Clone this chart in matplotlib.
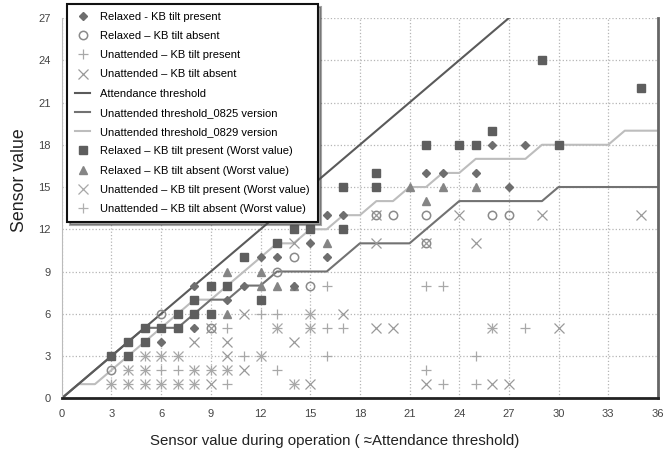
import matplotlib.pyplot as plt

# ---- data ----
rel_tilt_x = [8, 10, 11, 12, 13, 16, 16, 17, 22, 23, 25, 26, 28, 27, 8, 6, 15, 14]
rel_tilt_y = [8, 7, 8, 10, 10, 10, 13, 13, 16, 16, 16, 18, 18, 15, 5, 4, 11, 8]

rel_notilt_x = [3, 6, 13, 14, 15, 20, 22, 26, 27, 19, 22, 9]
rel_notilt_y = [2, 6, 9, 10, 8, 13, 13, 13, 13, 13, 11, 5]

un_tilt_x = [10, 6, 7, 10, 11, 12, 13, 16, 16, 17, 16, 13, 22, 23, 28, 25, 22, 23, 25,
             3, 4, 5, 6, 7, 8, 4, 5, 8, 9, 10, 5, 6, 7, 12, 15, 13, 15, 14, 26]
un_tilt_y = [1, 2, 2, 5, 3, 6, 6, 8, 5, 5, 3, 2, 8, 8, 5, 3, 2, 1, 1,
             1, 1, 1, 1, 1, 1, 2, 2, 2, 2, 2, 3, 3, 3, 3, 6, 5, 5, 1, 5]

un_notilt_x = [9, 11, 8, 10, 10, 11, 17, 19, 20, 14, 15, 24, 29, 35, 25, 14, 19, 30, 22, 26, 27,
               19, 22, 9]
un_notilt_y = [1, 2, 4, 4, 3, 6, 6, 5, 5, 4, 1, 13, 13, 13, 11, 11, 11, 5, 1, 1, 1,
               13, 11, 5]

attend_x = [0, 27]
attend_y = [0, 27]

th0825_x = [0, 5, 7, 9, 10, 11, 12, 13, 16, 18, 21, 24, 29, 30, 36]
th0825_y = [0, 5, 5, 7, 7, 8, 8, 9, 9, 11, 11, 14, 14, 15, 15]

th0829_x = [0, 1, 2, 8, 9, 13, 14, 15, 16, 17, 18, 19, 20, 21, 22, 23, 24, 25, 28, 29, 33, 34, 36]
th0829_y = [0, 1, 1, 7, 7, 11, 11, 12, 12, 13, 13, 14, 14, 15, 15, 16, 16, 17, 17, 18, 18, 19, 19]

relw_tilt_x = [3, 4, 4, 5, 5, 6, 7, 7, 8, 9, 8, 9, 10, 11, 12, 13, 14, 15, 17, 17, 19, 19,
               22, 24, 25, 26, 29, 30, 35]
relw_tilt_y = [3, 3, 4, 4, 5, 5, 5, 6, 6, 6, 7, 8, 8, 10, 7, 11, 12, 12, 12, 15, 15, 16,
               18, 18, 18, 19, 24, 18, 22]

relw_notilt_x = [10, 10, 12, 12, 13, 14, 16, 21, 22, 23, 25]
relw_notilt_y = [6, 9, 9, 8, 8, 8, 11, 15, 14, 15, 15]

unw_tilt_x = [3, 4, 5, 6, 7, 8, 4, 5, 8, 9, 10, 5, 6, 7, 12, 15, 13, 15, 14, 26]
unw_tilt_y = [1, 1, 1, 1, 1, 1, 2, 2, 2, 2, 2, 3, 3, 3, 3, 6, 5, 5, 1, 5]

unw_notilt_x = []
unw_notilt_y = []


def main():
    plt.rcParams['font.family'] = ['Liberation Sans', 'DejaVu Sans']
    fig = plt.figure(figsize=(6.72, 4.51), dpi=100)
    ax = fig.add_axes([0.092, 0.117, 0.887, 0.843])

    ax.plot(rel_tilt_x, rel_tilt_y, ls='none', marker='D', ms=4.2, color='#6e6e6e',
            mec='#6e6e6e', label='Relaxed - KB tilt present', zorder=5)
    ax.plot(rel_notilt_x, rel_notilt_y, ls='none', marker='o', ms=6, mfc='none',
            mec='#8a8a8a', mew=1.1, label='Relaxed – KB tilt absent', zorder=4)
    ax.plot(un_tilt_x, un_tilt_y, ls='none', marker='+', ms=7, mew=0.9, color='#a8a8a8',
            label='Unattended – KB tilt present', zorder=3)
    ax.plot(un_notilt_x, un_notilt_y, ls='none', marker='x', ms=6.5, mew=0.9,
            color='#999999', label='Unattended – KB tilt absent', zorder=3)
    ax.plot(attend_x, attend_y, color='#5a5a5a', lw=1.5, label='Attendance threshold',
            zorder=2.2)
    ax.plot(th0825_x, th0825_y, color='#727272', lw=1.5,
            label='Unattended threshold_0825 version', zorder=2.1)
    ax.plot(th0829_x, th0829_y, color='#bdbdbd', lw=1.5,
            label='Unattended threshold_0829 version', zorder=2)
    ax.plot(relw_tilt_x, relw_tilt_y, ls='none', marker='s', ms=5.5, color='#5e5e5e',
            label='Relaxed – KB tilt present (Worst value)', zorder=4)
    ax.plot(relw_notilt_x, relw_notilt_y, ls='none', marker='^', ms=5.5, color='#858585',
            label='Relaxed – KB tilt absent (Worst value)', zorder=4)
    ax.plot(unw_tilt_x, unw_tilt_y, ls='none', marker='x', ms=6.5, mew=0.9,
            color='#a8a8a8', label='Unattended – KB tilt present (Worst value)', zorder=3)
    ax.plot(unw_notilt_x, unw_notilt_y, ls='none', marker='+', ms=7, mew=0.9,
            color='#b0b0b0', label='Unattended – KB tilt absent (Worst value)', zorder=3)

    ax.set_xlim(0, 36)
    ax.set_ylim(0, 27)
    ax.set_xticks(range(0, 37, 3))
    ax.set_yticks(range(0, 28, 3))
    ax.grid(True, ls=':', color='#b5b5b5', lw=0.9)
    ax.set_axisbelow(True)
    ax.tick_params(length=0, labelsize=8, colors='#444444', pad=8)

    ax.spines['top'].set_visible(False)
    ax.spines['left'].set_color('#bbbbbb')
    ax.spines['left'].set_linewidth(0.8)
    ax.spines['bottom'].set_color('#222222')
    ax.spines['bottom'].set_linewidth(2)
    ax.spines['right'].set_color('#666666')
    ax.spines['right'].set_linewidth(2)

    ax.set_xlabel('Sensor value during operation ( ≈Attendance threshold)', fontsize=10.8,
                  color='#222222')
    ax.xaxis.set_label_coords(0.458, -0.095)
    ax.set_ylabel('Sensor value', fontsize=12.8, color='#222222')
    ax.yaxis.set_label_coords(-0.056, 0.574)

    leg = ax.legend(loc='upper left', bbox_to_anchor=(67 / 672, 1 - 4 / 451),
                    bbox_transform=fig.transFigure, fontsize=8.0, frameon=True,
                    fancybox=False, shadow=True, labelspacing=0.83, handlelength=1.4,
                    borderpad=0.7, handletextpad=0.9, borderaxespad=0)
    leg.get_frame().set_edgecolor('#111111')
    leg.get_frame().set_linewidth(1.5)
    leg.set_zorder(10)

    fig.savefig('out.png', dpi=100)
    plt.close(fig)


if __name__ == '__main__':
    main()
